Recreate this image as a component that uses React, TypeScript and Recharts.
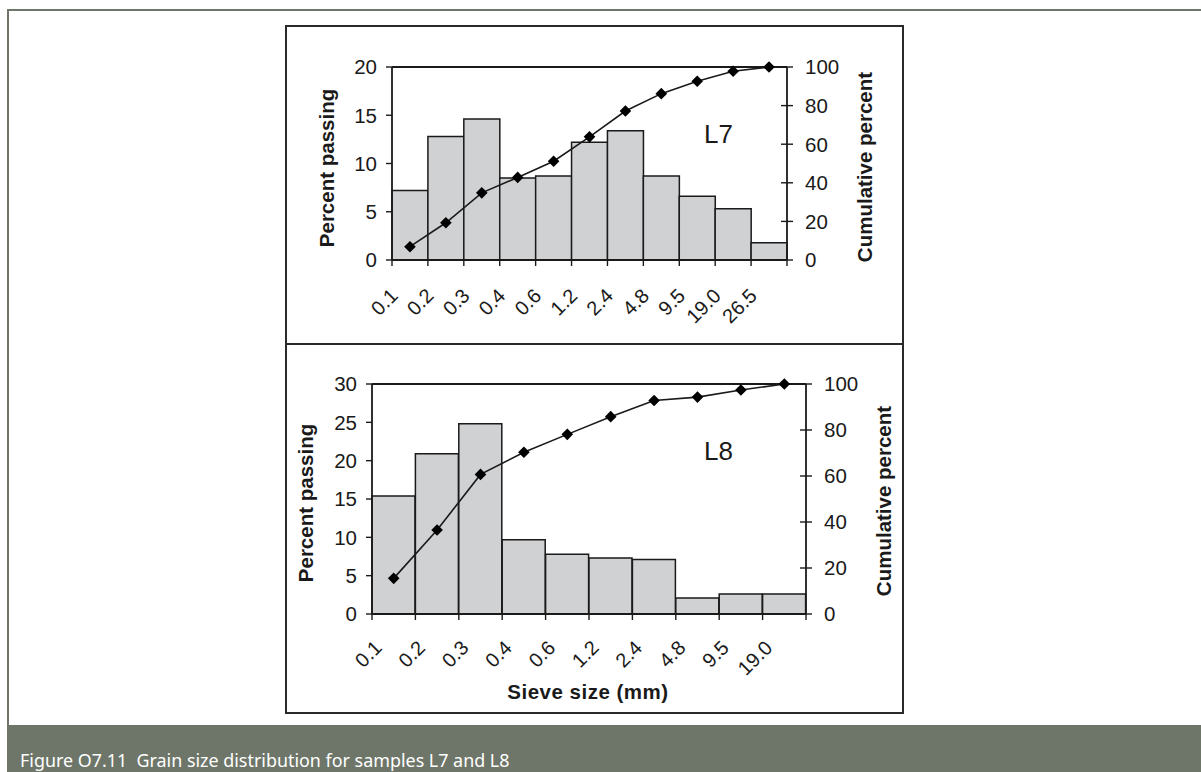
import React from 'react';
import { ComposedChart, Bar, Line, XAxis, YAxis, ReferenceLine } from 'recharts';

const l7Sieve = ['0.1', '0.2', '0.3', '0.4', '0.6', '1.2', '2.4', '4.8', '9.5', '19.0', '26.5'];
const l7Percent = [7.2, 12.8, 14.6, 8.5, 8.7, 12.2, 13.4, 8.7, 6.6, 5.3, 1.8];
const l7Cumulative = [6.9, 19.3, 34.8, 42.8, 51.2, 63.8, 77.2, 86.2, 92.6, 97.8, 100];

const l8Sieve = ['0.1', '0.2', '0.3', '0.4', '0.6', '1.2', '2.4', '4.8', '9.5', '19.0'];
const l8Percent = [15.4, 20.9, 24.8, 9.7, 7.8, 7.3, 7.1, 2.1, 2.6, 2.6];
const l8Cumulative = [15.5, 36.5, 60.7, 70.3, 78.1, 85.8, 92.8, 94.3, 97.4, 100];

const l7LeftTicks = [0, 5, 10, 15, 20];
const l8LeftTicks = [0, 5, 10, 15, 20, 25, 30];
const rightTicks = [0, 20, 40, 60, 80, 100];

const l7Data = l7Sieve.map((s, i) => ({ sieve: s, percent: l7Percent[i], cumulative: l7Cumulative[i] }));
const l8Data = l8Sieve.map((s, i) => ({ sieve: s, percent: l8Percent[i], cumulative: l8Cumulative[i] }));

const FONT = '"Liberation Sans", Arial, sans-serif';
const INK = '#1a1a1a';
const BAR_FILL = '#d0d1d3';
const FRAME = '#6e7669';

const makeXTick = (bw: number, n: number, dx: number, dy: number) => (props: any) => {
  const { x, y, payload, index } = props;
  const left = x - bw / 2;
  const ax = left + dx;
  const ay = y + dy;
  return (
    <g>
      <line x1={left} y1={y} x2={left} y2={y + 6} stroke={INK} strokeWidth={1.4} />
      {index === n - 1 && (
        <line x1={x + bw / 2} y1={y} x2={x + bw / 2} y2={y + 6} stroke={INK} strokeWidth={1.4} />
      )}
      <text
        x={ax}
        y={ay}
        textAnchor="end"
        transform={`rotate(-45 ${ax} ${ay})`}
        fontFamily={FONT}
        fontSize={20}
        fill={INK}
      >
        {payload.value}
      </text>
    </g>
  );
};

const RightTick = (props: any) => {
  const { x, y, payload } = props;
  const axX = x - 18;
  return (
    <g>
      <line x1={axX - 6} y1={y} x2={axX + 6} y2={y} stroke={INK} strokeWidth={1.4} />
      <text x={x} y={y} dy="0.36em" textAnchor="start" fontFamily={FONT} fontSize={20.5} fill={INK}>
        {payload.value}
      </text>
    </g>
  );
};

const Diamond = (props: any) => {
  const { cx, cy, index } = props;
  if (cx == null || cy == null) return <g key={`d-${index}`} />;
  const r = 5.8;
  return (
    <path
      key={`d-${index}`}
      d={`M${cx},${cy - r}L${cx + r},${cy}L${cx},${cy + r}L${cx - r},${cy}Z`}
      fill="#000"
    />
  );
};

type PanelProps = {
  data: any[];
  n: number;
  leftMax: number;
  leftTicks: number[];
  width: number;
  height: number;
  leftW: number;
  rightW: number;
  top: number;
  xH: number;
  dx: number;
  dy: number;
};

const Panel = ({ data, n, leftMax, leftTicks, width, height, leftW, rightW, top, xH, dx, dy }: PanelProps) => {
  const bw = (width - leftW - rightW) / n;
  return (
    <ComposedChart
      width={width}
      height={height}
      data={data}
      margin={{ top, right: 0, bottom: 0, left: 0 }}
      barCategoryGap={0}
      barGap={0}
    >
      <XAxis
        dataKey="sieve"
        interval={0}
        height={xH}
        tickSize={0}
        tickMargin={0}
        tickLine={false}
        axisLine={{ stroke: INK, strokeWidth: 1.8 }}
        tick={makeXTick(bw, n, dx, dy)}
      />
      <YAxis
        yAxisId="left"
        orientation="left"
        width={leftW}
        domain={[0, leftMax]}
        ticks={leftTicks}
        interval={0}
        allowDataOverflow
        tickSize={6}
        tickMargin={9}
        tickLine={{ stroke: INK, strokeWidth: 1.4 }}
        axisLine={{ stroke: INK, strokeWidth: 1.8 }}
        tick={{ fontFamily: FONT, fontSize: 20.5, fill: INK }}
      />
      <YAxis
        yAxisId="right"
        orientation="right"
        width={rightW}
        domain={[0, 100]}
        ticks={rightTicks}
        interval={0}
        tickSize={6}
        tickMargin={12}
        tickLine={false}
        axisLine={{ stroke: INK, strokeWidth: 1.8 }}
        tick={RightTick}
      />
      <ReferenceLine yAxisId="left" y={leftMax} stroke={INK} strokeWidth={1.8} />
      <Bar
        yAxisId="left"
        dataKey="percent"
        fill={BAR_FILL}
        stroke={INK}
        strokeWidth={1.5}
        isAnimationActive={false}
      />
      <Line
        yAxisId="right"
        dataKey="cumulative"
        type="linear"
        stroke={INK}
        strokeWidth={1.6}
        dot={Diamond}
        activeDot={false}
        isAnimationActive={false}
      />
    </ComposedChart>
  );
};

export default function App() {
  const titleStyle = { fontFamily: FONT, fontWeight: 700, fontSize: 20.5, fill: INK } as const;
  return (
    <div
      style={{
        position: 'absolute',
        left: 0,
        top: 0,
        width: 1201,
        height: 772,
        background: '#fff',
        overflow: 'hidden',
      }}
    >
      {/* outer frame */}
      <div
        style={{
          position: 'absolute',
          left: 7,
          top: 9,
          width: 1194,
          height: 716,
          borderTop: `2px solid ${FRAME}`,
          borderLeft: `2px solid ${FRAME}`,
          boxSizing: 'border-box',
        }}
      />
      {/* caption bar */}
      <div
        style={{
          position: 'absolute',
          left: 7,
          top: 725,
          width: 1194,
          height: 47,
          background: FRAME,
        }}
      />
      {/* inner box */}
      <div
        style={{
          position: 'absolute',
          left: 285,
          top: 25,
          width: 619,
          height: 689,
          border: '2px solid #2a2a2a',
          boxSizing: 'border-box',
        }}
      />
      <div style={{ position: 'absolute', left: 287, top: 343, width: 615, height: 2, background: '#2a2a2a' }} />

      <div style={{ position: 'absolute', left: 287, top: 27 }}>
        <Panel
          data={l7Data}
          n={l7Sieve.length}
          leftMax={20}
          leftTicks={l7LeftTicks}
          width={615}
          height={317}
          leftW={105}
          rightW={115}
          top={40}
          xH={84}
          dx={7}
          dy={37}
        />
      </div>
      <div style={{ position: 'absolute', left: 287, top: 345 }}>
        <Panel
          data={l8Data}
          n={l8Sieve.length}
          leftMax={30}
          leftTicks={l8LeftTicks}
          width={615}
          height={367}
          leftW={85}
          rightW={96}
          top={39}
          xH={98}
          dx={11}
          dy={35}
        />
      </div>

      <svg
        width={1201}
        height={772}
        style={{ position: 'absolute', left: 0, top: 0, pointerEvents: 'none' }}
      >
        <text x={326} y={168} transform="rotate(-90 326 168)" textAnchor="middle" dominantBaseline="central" style={titleStyle}>
          Percent passing
        </text>
        <text x={864} y={167} transform="rotate(-90 864 167)" textAnchor="middle" dominantBaseline="central" style={titleStyle}>
          Cumulative percent
        </text>
        <text x={305} y={503} transform="rotate(-90 305 503)" textAnchor="middle" dominantBaseline="central" style={titleStyle}>
          Percent passing
        </text>
        <text x={883} y={501} transform="rotate(-90 883 501)" textAnchor="middle" dominantBaseline="central" style={titleStyle}>
          Cumulative percent
        </text>
        <text x={588} y={699} textAnchor="middle" style={titleStyle} letterSpacing={0.5}>
          Sieve size (mm)
        </text>
        <text x={704} y={143} fontFamily={FONT} fontSize={26} fill={INK}>
          L7
        </text>
        <text x={704} y={460} fontFamily={FONT} fontSize={26} fill={INK}>
          L8
        </text>
        <text x={20} y={767} fontFamily='"Noto Sans", "Open Sans", sans-serif' fontSize={17.9} fill="#fff" xmlSpace="preserve">
          {'Figure O7.11\u00a0\u00a0Grain size distribution for samples L7 and L8'}
        </text>
      </svg>
    </div>
  );
}
